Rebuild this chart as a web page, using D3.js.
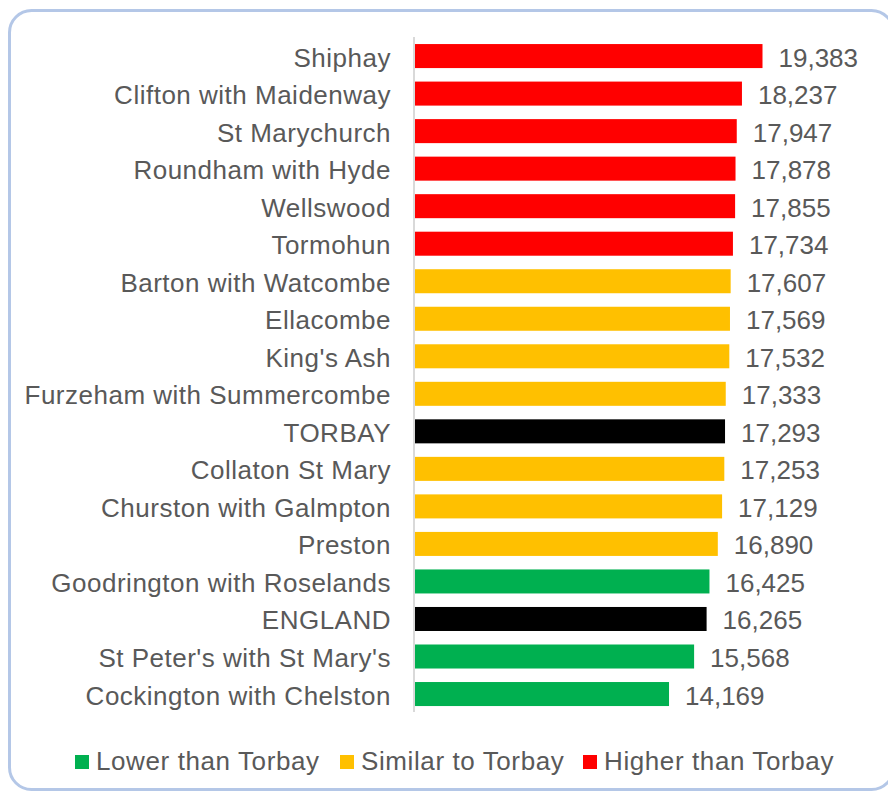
<!DOCTYPE html>
<html>
<head>
<meta charset="utf-8">
<style>
  body { margin:0; background:#fff; }
  svg text { font-family: "Liberation Sans", Arial, sans-serif; fill:#595959; }
</style>
<script src="https://d3js.org/d3.v7.min.js"></script>
</head>
<body>
<script>
var wards = ["Shiphay","Clifton with Maidenway","St Marychurch","Roundham with Hyde","Wellswood","Tormohun",
  "Barton with Watcombe","Ellacombe","King's Ash","Furzeham with Summercombe","TORBAY","Collaton St Mary",
  "Churston with Galmpton","Preston","Goodrington with Roselands","ENGLAND","St Peter's with St Mary's","Cockington with Chelston"];
var values = [19383,18237,17947,17878,17855,17734,17607,17569,17532,17333,17293,17253,17129,16890,16425,16265,15568,14169];
// h = higher, s = similar, l = lower, c = comparator
var groups = ["h","h","h","h","h","h","s","s","s","s","c","s","s","s","l","c","l","l"];
var legendLabels = ["Lower than Torbay","Similar to Torbay","Higher than Torbay"];
var legendKeys = ["l","s","h"];

var colour = {h:"#FF0000", s:"#FFC000", l:"#00B050", c:"#000000"};

var W = 888, H = 795;
var svg = d3.select("body").append("svg").attr("width", W).attr("height", H);

// frame
svg.append("rect").attr("x",9.5).attr("y",10.5).attr("width",884).attr("height",779)
  .attr("rx",22).attr("ry",22).attr("fill","#fff").attr("stroke","#b4c7e7").attr("stroke-width",3);

var x = d3.scaleLinear().domain([0, 19383]).range([415, 762.5]);
var y = d3.scaleBand().domain(wards).range([37.3, 712.8]).paddingInner(0.36).paddingOuter(0.18);

svg.selectAll(".bar").data(wards).enter().append("rect")
  .attr("x", x(0))
  .attr("y", function(d){ return y(d); })
  .attr("width", function(d,i){ return x(values[i]) - x(0); })
  .attr("height", y.bandwidth())
  .attr("fill", function(d,i){ return colour[groups[i]]; });

// axis line
svg.append("line").attr("x1",414).attr("x2",414).attr("y1",37).attr("y2",712)
  .attr("stroke","#d9d9d9").attr("stroke-width",2);

svg.selectAll(".lab").data(wards).enter().append("text")
  .attr("x", 391)
  .attr("y", function(d){ return y(d) + y.bandwidth()/2; })
  .attr("dy", 10.5)
  .attr("text-anchor","end")
  .attr("font-size","26px")
  .attr("letter-spacing","0.5px")
  .text(function(d){ return d; });

var fmt = d3.format(",");
svg.selectAll(".val").data(wards).enter().append("text")
  .attr("x", function(d,i){ return x(values[i]) + 16; })
  .attr("y", function(d){ return y(d) + y.bandwidth()/2; })
  .attr("dy", 10.5)
  .attr("font-size","26px")
  .text(function(d,i){ return fmt(values[i]); });

// legend
var lx = [75, 340, 583];
var lg = svg.selectAll(".leg").data(legendLabels).enter().append("g")
  .attr("transform", function(d,i){ return "translate(" + lx[i] + ",755)"; });
lg.append("rect").attr("width",14).attr("height",14)
  .attr("fill", function(d,i){ return colour[legendKeys[i]]; });
lg.append("text").attr("x",21).attr("y",15).attr("font-size","26px")
  .attr("letter-spacing","0.6px")
  .text(function(d){ return d; });
</script>
</body>
</html>
